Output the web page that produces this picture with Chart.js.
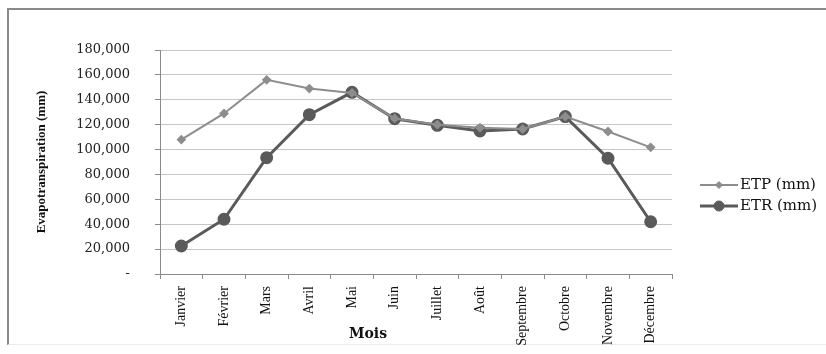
<!DOCTYPE html>
<html lang="fr">
<head>
<meta charset="utf-8">
<script src="https://cdn.jsdelivr.net/npm/chart.js@4.4.1/dist/chart.umd.min.js"></script>
<style>
  html, body { margin: 0; padding: 0; background: #ffffff; }
  #wrap { position: relative; width: 826px; height: 354px; overflow: hidden; background: #fff; }
  #frame {
    position: absolute; left: 7px; top: 8px; width: 830px; height: 337px;
    border-top: 2px solid #8a8a8a; border-left: 2px solid #8a8a8a; border-bottom: 1px solid #ececec;
    box-sizing: border-box;
  }
  canvas { position: absolute; left: 0; top: 0; }
</style>
</head>
<body>
<div id="wrap">
  <div id="frame"></div>
  <canvas id="c" width="826" height="354"></canvas>
</div>
<script>
// Monthly evapotranspiration: potential (ETP) and actual (ETR), in mm
const months = ['Janvier', 'Février', 'Mars', 'Avril', 'Mai', 'Juin', 'Juillet', 'Août', 'Septembre', 'Octobre', 'Novembre', 'Décembre'];
const etp = [108000, 129000, 156000, 149000, 145500, 125000, 120000, 117500, 116500, 126500, 114500, 101800];
const etr = [22500, 44000, 93500, 128000, 146000, 124800, 119500, 115000, 116500, 126500, 93000, 42000];
const yTicks = [0, 20000, 40000, 60000, 80000, 100000, 120000, 140000, 160000, 180000];

const seriesNames = ['ETP (mm)', 'ETR (mm)'];
const etpColor = '#8d8d8d';
const etrColor = '#5a5a5a';

function fmt(v) {
  if (v === 0) return '-';
  return v.toLocaleString('en-US');
}

// Axis title below the month labels and the legend on the right
const extras = {
  id: 'extras',
  afterDraw(chart) {
    const ctx = chart.ctx;
    ctx.save();
    ctx.fillStyle = '#111';
    ctx.font = 'bold 14px "DejaVu Serif", serif';
    ctx.textAlign = 'center';
    ctx.textBaseline = 'middle';
    ctx.fillText('Mois', 368, 334);

    const ys = [185, 206];
    chart.data.datasets.forEach((ds, i) => {
      const y = ys[i];
      ctx.strokeStyle = ds.borderColor;
      ctx.lineWidth = ds.borderWidth;
      ctx.beginPath();
      ctx.moveTo(700, y);
      ctx.lineTo(738, y);
      ctx.stroke();
      ctx.fillStyle = ds.pointBackgroundColor;
      ctx.strokeStyle = ds.pointBorderColor;
      ctx.lineWidth = 1;
      Chart.helpers.drawPoint(ctx, {
        pointStyle: ds.pointStyle,
        radius: ds.pointRadius,
        rotation: 0,
        borderWidth: 1
      }, 719, y);
      ctx.fillStyle = '#111';
      ctx.font = '15px "DejaVu Serif", serif';
      ctx.textAlign = 'left';
      ctx.textBaseline = 'middle';
      ctx.fillText(seriesNames[i], 740, y);
    });
    ctx.restore();
  }
};

new Chart(document.getElementById('c'), {
  type: 'line',
  data: {
    labels: months,
    datasets: [
      {
        label: seriesNames[0],
        data: etp,
        borderColor: etpColor,
        backgroundColor: etpColor,
        pointBackgroundColor: etpColor,
        pointBorderColor: etpColor,
        borderWidth: 2,
        pointStyle: 'rectRot',
        pointRadius: 3.5,
        tension: 0
      },
      {
        label: seriesNames[1],
        data: etr,
        borderColor: etrColor,
        backgroundColor: etrColor,
        pointBackgroundColor: etrColor,
        pointBorderColor: etrColor,
        borderWidth: 3,
        pointStyle: 'circle',
        pointRadius: 5,
        tension: 0
      }
    ]
  },
  options: {
    responsive: false,
    animation: false,
    devicePixelRatio: 1,
    layout: { padding: { left: 30, right: 154, top: 50, bottom: 0 } },
    plugins: { legend: { display: false }, tooltip: { enabled: false } },
    scales: {
      x: {
        offset: true,
        grid: { offset: true, drawOnChartArea: false, tickLength: 5, tickColor: '#8a8a8a' },
        border: { display: true, color: '#8a8a8a', width: 1 },
        ticks: {
          minRotation: 90, maxRotation: 90, autoSkip: false, padding: 7,
          color: '#111', font: { family: '"Liberation Serif", serif', size: 14 }
        },
        afterFit(scale) { scale.height = 80; }
      },
      y: {
        min: 0, max: 180000,
        afterBuildTicks(scale) { scale.ticks = yTicks.map(v => ({ value: v })); },
        grid: { color: '#c6c6c6', lineWidth: 1, tickLength: 5, tickColor: '#8a8a8a' },
        border: { display: true, color: '#8a8a8a', width: 1 },
        ticks: {
          padding: 25, color: '#222',
          font: { family: '"DejaVu Serif", serif', size: 13 },
          callback: v => fmt(v)
        },
        title: {
          display: true, text: 'Evapotranspiration (mm)', color: '#111',
          font: { family: '"Liberation Serif", serif', size: 13, weight: 'bold' },
          padding: { top: 4, bottom: 4 }
        },
        afterFit(scale) { scale.width = 130; }
      }
    }
  },
  plugins: [extras]
});
</script>
</body>
</html>
